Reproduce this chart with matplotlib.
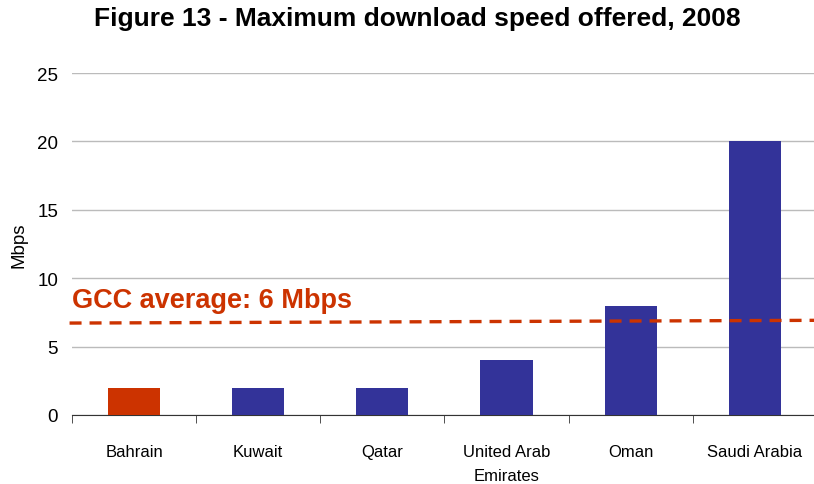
import matplotlib.pyplot as plt
import numpy as np

# Data
countries = ["Bahrain", "Kuwait", "Qatar", "United Arab\nEmirates", "Oman", "Saudi Arabia"]
speeds = [2, 2, 2, 4, 8, 20]
bar_colors = ["#CC3300", "#333399", "#333399", "#333399", "#333399", "#333399"]
gcc_line_y = [6.72, 6.92]  # the dashed average line as drawn (slightly tilted)
gcc_label = "GCC average: 6 Mbps"

plt.rcParams['font.family'] = ['Liberation Sans', 'DejaVu Sans']

fig = plt.figure(figsize=(8.14, 4.85), dpi=100)
ax = fig.add_axes([0.0885, 0.1423, 0.915, 0.7051])

x = np.arange(len(countries))
ax.bar(x, speeds, width=0.42, color=bar_colors, zorder=3)

ax.set_xlim(-0.5, 5.5)
ax.set_ylim(0, 25)
ax.set_yticks([0, 5, 10, 15, 20, 25])
ax.yaxis.grid(True, color="#BBBBBB", linewidth=1, zorder=0)
ax.tick_params(axis='y', length=0, pad=10, labelsize=13.5)

ax.set_xticks(x)
ax.set_xticklabels(countries, fontsize=12, linespacing=1.75)
ax.set_xticks(np.arange(-0.5, 5.6, 1), minor=True)
ax.tick_params(axis='x', which='major', length=0, pad=21)
ax.tick_params(axis='x', which='minor', length=6, color="#333333")

for side in ["top", "right", "left"]:
    ax.spines[side].set_visible(False)
ax.spines["bottom"].set_color("#333333")

ax.set_ylabel("Mbps", fontsize=13.5, labelpad=7)

# GCC average dashed line
ax.plot([-0.52, 5.5], gcc_line_y, color="#CC3300", linewidth=2.4,
        dashes=(3.6, 2.4), zorder=4, clip_on=False)
ax.text(-0.5, 8.4, gcc_label, color="#CC3300", fontsize=19.5,
        fontweight="bold", ha="left", va="center")

fig.suptitle("Figure 13 - Maximum download speed offered, 2008",
             fontsize=19, fontweight="bold", x=0.513, y=0.985)

plt.savefig("out.png", dpi=100)
